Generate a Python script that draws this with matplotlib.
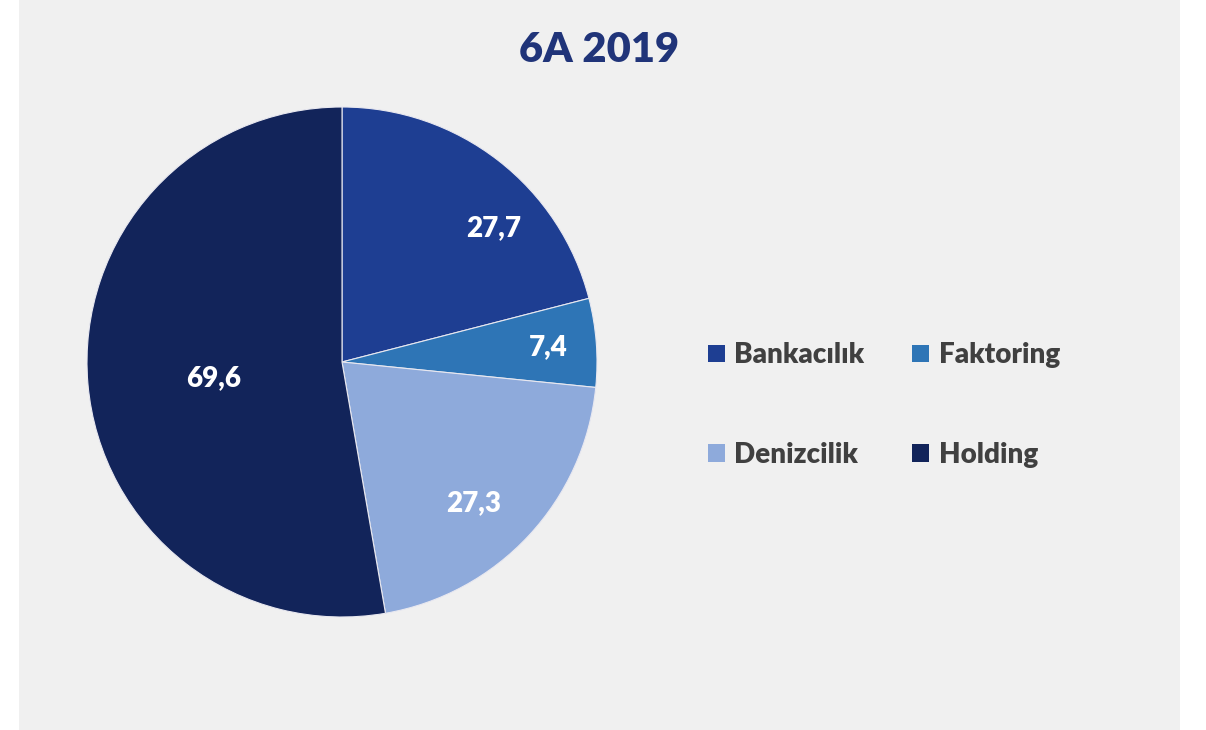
import matplotlib.pyplot as plt
from matplotlib.patches import Rectangle, Patch

categories = ['Bankacılık', 'Faktoring', 'Denizcilik', 'Holding']
values = [27.7, 7.4, 27.3, 69.6]
value_labels = ['27,7', '7,4', '27,3', '69,6']
colors = ['#1e3e92', '#2e75b6', '#8eaadb', '#12245a']
title = '6A 2019'

# label spots inside the pie (in pie radius units)
label_pos = [(0.596, 0.525), (0.808, 0.059), (0.518, -0.553), (-0.502, -0.063)]

plt.rcParams['font.family'] = ['Lato', 'DejaVu Sans']

W, H = 1206, 730
fig = plt.figure(figsize=(W / 100, H / 100), dpi=100)
fig.patch.set_facecolor('white')
fig.patches.append(Rectangle((19 / W, 0), (1180 - 19) / W, 1, transform=fig.transFigure,
                             facecolor='#f0f0f0', edgecolor='none', zorder=-10))

cx, cy, r = 342, 362, 255
ax = fig.add_axes([(cx - r) / W, (H - cy - r) / H, 2 * r / W, 2 * r / H])
ax.set_facecolor('none')
ax.set_zorder(1)
wedges, _ = ax.pie(values, colors=colors, startangle=90, counterclock=False,
                   wedgeprops=dict(edgecolor='#e8e8f0', linewidth=0.8))
ax.set_xlim(-1, 1)
ax.set_ylim(-1, 1)
ax.set_aspect('equal')
ax.axis('off')

for (x, y), lab in zip(label_pos, value_labels):
    ax.text(x, y, lab, ha='center', va='center', color='white',
            fontsize=20, fontweight='heavy')

fig.text(599 / W, 1 - 50 / H, title, ha='center', va='center',
         fontsize=30, fontweight='heavy', color='#203479')

# legend: 2 columns, fills column-wise
order = [0, 2, 1, 3]
handles = [Patch(facecolor=colors[i], edgecolor='none') for i in order]
labels = [categories[i] for i in order]
leg = fig.legend(handles, labels, ncol=2, loc='center left',
                 bbox_to_anchor=(683 / W, 1 - 405 / H), frameon=False,
                 prop=dict(size=20, weight='heavy'), labelcolor='#404040',
                 handlelength=0.6, handleheight=0.6, handletextpad=0.35,
                 labelspacing=2.65, columnspacing=1.72)

fig.savefig('out.png', dpi=100, facecolor=fig.get_facecolor())
